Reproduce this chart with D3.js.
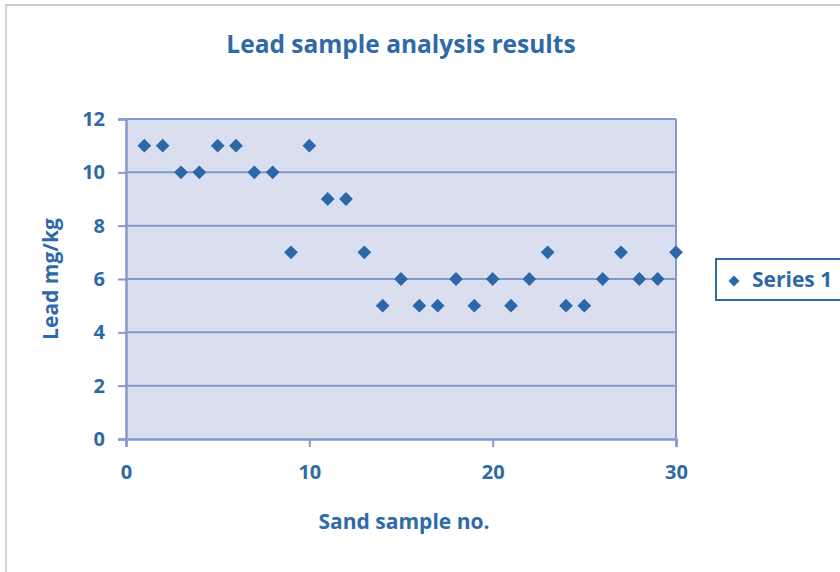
<!DOCTYPE html>
<html>
<head>
<meta charset="utf-8">
<script src="https://cdn.jsdelivr.net/npm/d3@7"></script>
<style>
  body { margin: 0; background: #fff; }
  text { font-family: "Open Sans", "Noto Sans", sans-serif; font-weight: bold; fill: #2e6aa8; }
</style>
</head>
<body>
<svg id="grafic" width="840" height="572"></svg>
<script>
// ------------------DADES------------------
var mostres = [1, 2, 3, 4, 5, 6, 7, 8, 9, 10, 11, 12, 13, 14, 15, 16, 17, 18, 19, 20, 21, 22, 23, 24, 25, 26, 27, 28, 29, 30];
var plom = [11, 11, 10, 10, 11, 11, 10, 10, 7, 11, 9, 9, 7, 5, 6, 5, 5, 6, 5, 6, 5, 6, 7, 5, 5, 6, 7, 6, 6, 7];
var ticksX = [0, 10, 20, 30];
var ticksY = [0, 2, 4, 6, 8, 10, 12];
var titol = "Lead sample analysis results";
var titolX = "Sand sample no.";
var titolY = "Lead mg/kg";
var nomSerie = "Series 1";

// ------------------COLORS------------------
var blau = "#2e67a8";
var linia = "#8599cf";
var fons = "#dadff0";

var svg = d3.select("#grafic");

// marc exterior
svg.append("rect")
    .attr("x", 6).attr("y", 5)
    .attr("width", 850).attr("height", 600)
    .style("fill", "none")
    .style("stroke", "#cfd3d7")
    .style("stroke-width", 2);

var esq = 126, dre = 676, dalt = 119, baix = 439;

var x = d3.scaleLinear().domain([0, 30]).range([esq, dre]);
var y = d3.scaleLinear().domain([0, 12]).range([baix, dalt]);

// fons de la zona de dibuix
svg.append("rect")
    .attr("x", esq).attr("y", dalt)
    .attr("width", dre - esq).attr("height", baix - dalt)
    .style("fill", fons);

// linies de la graella
svg.append("g")
    .selectAll("line")
    .data(ticksY.filter(d => d > 0))
    .join("line")
    .attr("x1", esq).attr("x2", dre)
    .attr("y1", d => y(d)).attr("y2", d => y(d))
    .style("stroke", linia)
    .style("stroke-width", 2);

// vora dreta
svg.append("line")
    .attr("x1", dre).attr("x2", dre)
    .attr("y1", dalt).attr("y2", baix)
    .style("stroke", linia)
    .style("stroke-width", 2);

// eix Y
var eixY = svg.append("g")
    .attr("transform", `translate(${esq},0)`)
    .call(d3.axisLeft(y).tickValues(ticksY).tickSize(8).tickPadding(13));
eixY.select(".domain").style("stroke", linia).style("stroke-width", 2.5);
eixY.selectAll(".tick line").style("stroke", linia).style("stroke-width", 2);
eixY.selectAll(".tick text").style("font-size", "20px").style("font-family", null).attr("fill", null);

// eix X
var eixX = svg.append("g")
    .attr("transform", `translate(0,${baix})`)
    .call(d3.axisBottom(x).tickValues(ticksX).tickSize(8).tickPadding(18));
eixX.select(".domain").style("stroke", linia).style("stroke-width", 2.5);
eixX.selectAll(".tick line").style("stroke", linia).style("stroke-width", 2);
eixX.selectAll(".tick text").style("font-size", "20px").style("font-family", null).attr("fill", null);

// punts
var diamant = d3.symbol().type(d3.symbolSquare).size(95);
svg.append("g")
    .selectAll("path")
    .data(mostres.map((m, i) => [m, plom[i]]))
    .join("path")
    .attr("d", diamant)
    .attr("transform", d => `translate(${x(d[0])},${y(d[1])}) rotate(45)`)
    .style("fill", blau);

// titols
svg.append("text")
    .attr("x", 401).attr("y", 53)
    .attr("text-anchor", "middle")
    .style("font-size", "24.5px")
    .text(titol);

svg.append("text")
    .attr("x", 404).attr("y", 529)
    .attr("text-anchor", "middle")
    .style("font-size", "21px")
    .text(titolX);

svg.append("text")
    .attr("transform", `translate(58,${(dalt + baix) / 2}) rotate(-90)`)
    .attr("text-anchor", "middle")
    .style("font-size", "21px")
    .text(titolY);

// llegenda
var lleg = svg.append("g");
lleg.append("rect")
    .attr("x", 716).attr("y", 259)
    .attr("width", 140).attr("height", 41)
    .style("fill", "#fff")
    .style("stroke", blau)
    .style("stroke-width", 2);
lleg.append("path")
    .attr("d", d3.symbol().type(d3.symbolSquare).size(60))
    .attr("transform", "translate(734,281) rotate(45)")
    .style("fill", blau);
lleg.append("text")
    .attr("x", 752).attr("y", 287)
    .style("font-size", "21px")
    .text(nomSerie);
</script>
</body>
</html>
